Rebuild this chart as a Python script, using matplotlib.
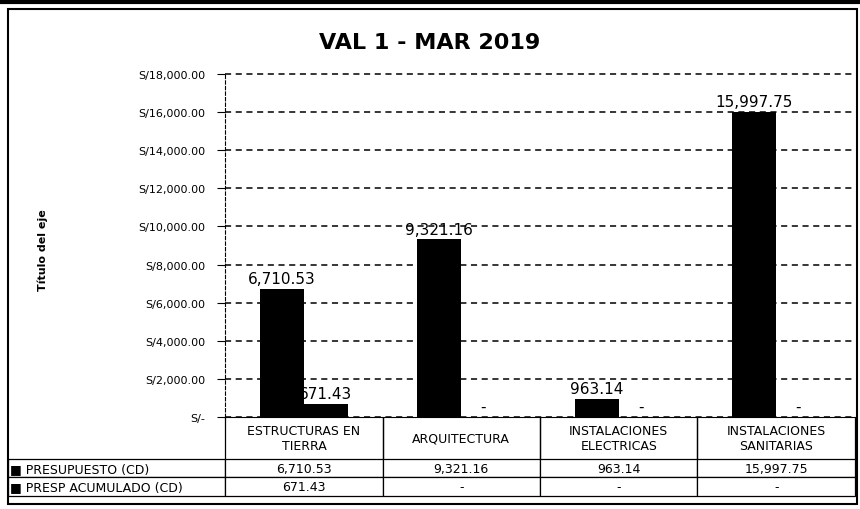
import matplotlib
matplotlib.use("Agg")
import matplotlib.pyplot as plt
from matplotlib.patches import Rectangle
import numpy as np

plt.rcParams['font.family'] = ['Liberation Sans Narrow', 'DejaVu Sans']

categories = ["ESTRUCTURAS EN\nTIERRA", "ARQUITECTURA", "INSTALACIONES\nELECTRICAS", "INSTALACIONES\nSANITARIAS"]
presupuesto = [6710.53, 9321.16, 963.14, 15997.75]
acumulado = [671.43, 0, 0, 0]
pres_labels = ["6,710.53", "9,321.16", "963.14", "15,997.75"]
acum_labels = ["671.43", "-", "-", "-"]
series_names = ["PRESUPUESTO (CD)", "PRESP ACUMULADO (CD)"]
yticks = [0, 2000, 4000, 6000, 8000, 10000, 12000, 14000, 16000, 18000]


def money(v):
  return "S/-" if v == 0 else "S/{:,.2f}".format(v)


fig = plt.figure(figsize=(8.6, 5.1), dpi=100)
ax = fig.add_axes([0.2616, 0.1804, 0.7324, 0.6726])

x = np.arange(len(categories))
w = 0.28
b1 = ax.bar(x - w / 2, presupuesto, w, color='black')
b2 = ax.bar(x + w / 2, acumulado, w, color='black')
ax.bar_label(b1, labels=pres_labels, padding=2, fontsize=11)
ax.bar_label(b2, labels=acum_labels, padding=2, fontsize=11)

ax.set_xlim(-0.5, len(categories) - 0.5)
ax.set_ylim(0, 18000)
ax.set_yticks(yticks)
ax.set_yticklabels([money(v) for v in yticks], fontsize=8)
ax.set_xticks([])
ax.yaxis.grid(True, linestyle=(0, (4, 3)), color='black', linewidth=1.1)
for gl in ax.get_ygridlines():
  gl.set_clip_on(False)
ax.set_axisbelow(True)
for s in ['top', 'right']:
  ax.spines[s].set_visible(False)
ax.spines['left'].set_linestyle((0, (3, 2)))
ax.tick_params(axis='y', length=6, pad=8)

fig.text(0.5, 0.915, "VAL 1 - MAR 2019", ha='center', va='center',
         fontsize=16, fontweight='bold')
fig.text(0.05, 0.51, "Título del eje", rotation=90, ha='center', va='center',
         fontsize=8, fontweight='bold')

# data table under the plot
cell_text = [[u"\u25a0 " + series_names[0]] + pres_labels,
             [u"\u25a0 " + series_names[1]] + acum_labels]
tbl = ax.table(cellText=cell_text, colLabels=[""] + categories,
               colWidths=[217, 157.5, 157.5, 157.5, 157.5],
               bbox=[-0.344, -0.23, 1.344, 0.23], cellLoc='center')
tbl.auto_set_font_size(False)
tbl.set_fontsize(9)
for (r, c), cell in tbl.get_celld().items():
  cell.set_linewidth(0.9)
  cell.set_height(0.42 if r == 0 else 0.185)
  if r == 0 and c == 0:
    cell.visible_edges = ''
  elif r == 0:
    cell.visible_edges = 'LR'
  if c == 0:
    cell.get_text().set_ha('left')
    cell.PAD = 0.01

fig.add_artist(Rectangle((0.009, 0.01), 0.988, 0.97, transform=fig.transFigure,
                         fill=False, edgecolor='black', linewidth=1.5))
fig.add_artist(plt.Line2D([0, 1], [0.995, 0.995], transform=fig.transFigure,
                          color='black', linewidth=3))

fig.savefig("out.png", dpi=100)
